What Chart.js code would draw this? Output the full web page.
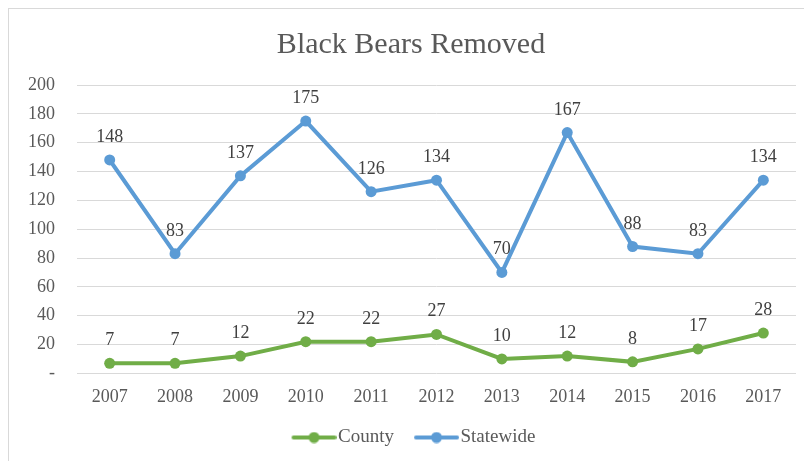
<!DOCTYPE html>
<html>
<head>
<meta charset="utf-8">
<script src="https://cdn.jsdelivr.net/npm/chart.js@4"></script>
<style>
    html, body { margin: 0; padding: 0; background: #fff; overflow: hidden; }
    #frame {
        position: absolute; left: 8px; top: 8px; width: 830px; height: 480px;
        border: 1px solid #d9d9d9; box-sizing: border-box;
    }
    #wrap { position: absolute; left: 0; top: 0; width: 804px; height: 461px; }
</style>
</head>
<body>
<div id="frame"></div>
<div id="wrap"><canvas id="bearChart"></canvas></div>
<script>
// chart data
const years = ['2007', '2008', '2009', '2010', '2011', '2012', '2013', '2014', '2015', '2016', '2017'];
const countyValues = [7, 7, 12, 22, 22, 27, 10, 12, 8, 17, 28];
const statewideValues = [148, 83, 137, 175, 126, 134, 70, 167, 88, 83, 134];
const yTicks = [0, 20, 40, 60, 80, 100, 120, 140, 160, 180, 200];

const SERIF = '"Liberation Serif", "Times New Roman", serif';
const GREEN = '#70AD47';
const BLUE = '#5B9BD5';

// legend marker: line with a dot in the middle
// (left part of the image stays empty so the marker sits close to its text)
function legendMarker(color) {
    const c = document.createElement('canvas');
    c.width = 58;
    c.height = 12;
    const g = c.getContext('2d');
    g.strokeStyle = color;
    g.lineWidth = 4;
    g.lineCap = 'round';
    g.beginPath();
    g.moveTo(15, 6);
    g.lineTo(56, 6);
    g.stroke();
    g.fillStyle = color;
    g.beginPath();
    g.arc(35.5, 6, 5.5, 0, Math.PI * 2);
    g.fill();
    return c;
}

// values written above each point
const pointLabels = {
    id: 'pointLabels',
    afterDatasetsDraw(chart) {
        const ctx = chart.ctx;
        ctx.save();
        ctx.font = '18px ' + SERIF;
        ctx.fillStyle = '#404040';
        ctx.textAlign = 'center';
        ctx.textBaseline = 'alphabetic';
        chart.data.datasets.forEach((ds, i) => {
            const meta = chart.getDatasetMeta(i);
            meta.data.forEach((pt, j) => {
                ctx.fillText(String(ds.data[j]), pt.x, pt.y - 18);
            });
        });
        ctx.restore();
    }
};

const ctx = document.getElementById('bearChart').getContext('2d');
new Chart(ctx, {
    type: 'line',
    data: {
        labels: years,
        datasets: [{
            label: 'County',
            data: countyValues,
            borderColor: GREEN,
            backgroundColor: GREEN,
            borderWidth: 4,
            pointRadius: 5.5,
            pointBackgroundColor: GREEN,
            pointBorderWidth: 0,
            tension: 0
        }, {
            label: 'Statewide',
            data: statewideValues,
            borderColor: BLUE,
            backgroundColor: BLUE,
            borderWidth: 4,
            pointRadius: 5.5,
            pointBackgroundColor: BLUE,
            pointBorderWidth: 0,
            tension: 0
        }]
    },
    options: {
        responsive: true,
        maintainAspectRatio: false,
        animation: false,
        layout: {
            padding: { left: 26, right: 8, top: 0, bottom: 4 }
        },
        plugins: {
            title: {
                display: true,
                text: 'Black Bears Removed',
                color: '#595959',
                font: { family: SERIF, size: 30, weight: 'normal' },
                padding: { top: 27, bottom: 22 }
            },
            legend: {
                position: 'bottom',
                labels: {
                    color: '#595959',
                    font: { family: SERIF, size: 19 },
                    usePointStyle: true,
                    pointStyleWidth: 42,
                    padding: 15,
                    generateLabels(chart) {
                        return chart.data.datasets.map((ds, i) => ({
                            text: ds.label,
                            fontColor: '#595959',
                            pointStyle: legendMarker(ds.borderColor),
                            datasetIndex: i,
                            hidden: false,
                            lineWidth: 0
                        }));
                    }
                }
            },
            tooltip: { enabled: false }
        },
        scales: {
            x: {
                offset: true,
                grid: { display: false },
                border: { display: false },
                ticks: {
                    color: '#595959',
                    font: { family: SERIF, size: 18 },
                    padding: 5,
                    maxRotation: 0
                }
            },
            y: {
                min: 0,
                max: 200,
                afterFit(scale) { scale.width = 51; },
                afterBuildTicks(scale) {
                    scale.ticks = yTicks.map(v => ({ value: v }));
                },
                grid: { color: '#d9d9d9', lineWidth: 1, drawTicks: false },
                border: { display: false },
                ticks: {
                    color: '#595959',
                    font: { family: SERIF, size: 18 },
                    padding: 22,
                    callback: v => (v === 0 ? '-' : v)
                }
            }
        }
    },
    plugins: [pointLabels]
});
</script>
</body>
</html>
